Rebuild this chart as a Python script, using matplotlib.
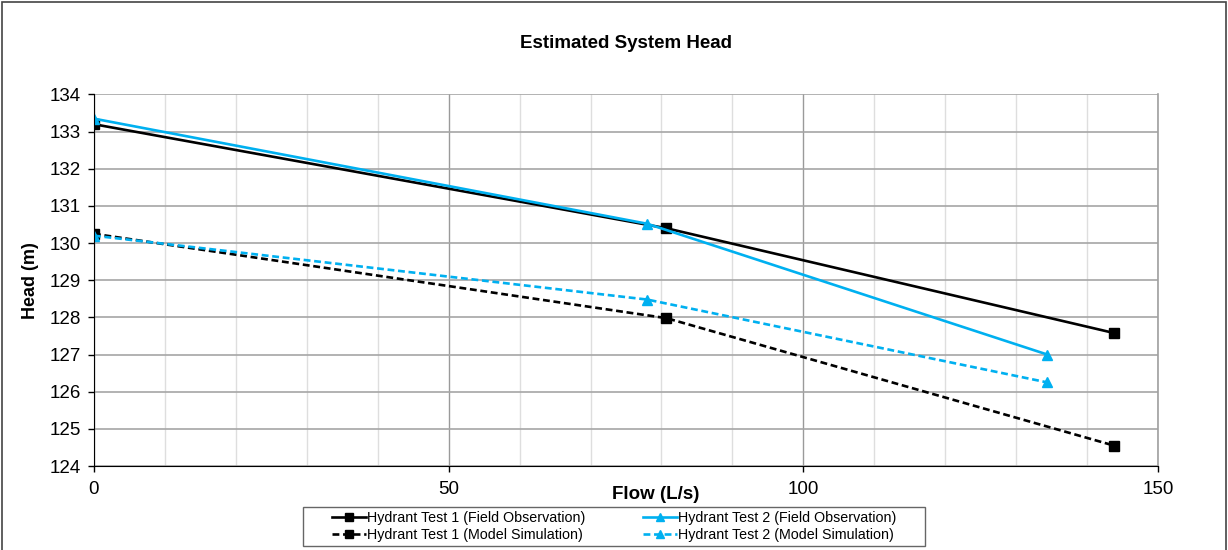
import matplotlib.pyplot as plt
from matplotlib.patches import Rectangle
from matplotlib.ticker import MultipleLocator

plt.rcParams['font.family'] = ['Liberation Sans', 'DejaVu Sans']

# Hydrant test results: flow (L/s) vs head (m)
flow_t1 = [0, 80.7, 143.8]
head_t1_field = [133.2, 130.4, 127.58]
head_t1_model = [130.25, 127.98, 124.55]

flow_t2 = [0, 78.0, 134.4]
head_t2_field = [133.35, 130.52, 127.0]
head_t2_model = [130.2, 128.48, 126.25]

blue = '#00B0F0'
dash = (2.6, 1.4)

fig = plt.figure(figsize=(12.28, 5.5), dpi=100)
ax = fig.add_axes([0.0765, 0.1527, 0.8665, 0.6755])

ax.plot(flow_t1, head_t1_field, '-', color='black', lw=1.9, marker='s', ms=6.5,
        label='Hydrant Test 1 (Field Observation)')
ax.plot(flow_t2, head_t2_field, '-', color=blue, lw=1.9, marker='^', ms=7.5,
        label='Hydrant Test 2 (Field Observation)')
ax.plot(flow_t1, head_t1_model, '--', color='black', lw=1.9, marker='s', ms=6.5,
        dashes=dash, label='Hydrant Test 1 (Model Simulation)')
ax.plot(flow_t2, head_t2_model, '--', color=blue, lw=1.9, marker='^', ms=7.5,
        dashes=dash, label='Hydrant Test 2 (Model Simulation)')

ax.set_xlim(0, 150)
ax.set_ylim(124, 134)
ax.xaxis.set_major_locator(MultipleLocator(50))
ax.xaxis.set_minor_locator(MultipleLocator(10))
ax.yaxis.set_major_locator(MultipleLocator(1))

ax.grid(which='minor', axis='x', color='#dedede', lw=1)
ax.grid(which='major', axis='x', color='#9a9a9a', lw=1)
ax.grid(which='major', axis='y', color='#a6a6a6', lw=1.2)
ax.set_axisbelow(True)

ax.spines['top'].set_visible(False)
ax.spines['right'].set_color('#a0a0a0')
ax.spines['right'].set_linewidth(1.2)
ax.spines['left'].set_color('black')
ax.spines['bottom'].set_color('black')

ax.tick_params(axis='both', which='major', direction='out', length=4.5, width=1,
               labelsize=13.5, color='black')
ax.tick_params(axis='x', which='minor', length=0)
ax.tick_params(axis='x', pad=6)
ax.tick_params(axis='y', pad=5)

ax.set_xlabel('Flow (L/s)', fontsize=13.5, fontweight='bold')
ax.xaxis.set_label_coords(0.528, -0.055)
ax.set_ylabel('Head (m)', fontsize=13, fontweight='bold')
ax.yaxis.set_label_coords(-0.052, 0.5)
fig.text(0.510, 0.92, 'Estimated System Head', ha='center', va='center',
         fontsize=13.5, fontweight='bold')

h, l = ax.get_legend_handles_labels()
order = [0, 2, 1, 3]
leg = fig.legend([h[i] for i in order], [l[i] for i in order], ncol=2, loc='center',
                 bbox_to_anchor=(0.5, 0.043), fontsize=10.3, frameon=False,
                 handlelength=2.4, columnspacing=4.0, borderpad=0.25,
                 labelspacing=0.2, handletextpad=0.05, borderaxespad=0,
                 markerscale=0.8)

# legend box, wider than the default legend frame
fig.patches.append(Rectangle((0.2467, 0.0073), 0.5065, 0.0715, transform=fig.transFigure,
                             fill=False, edgecolor='#666666', lw=1))

# outer chart border
fig.patches.append(Rectangle((0.002, -0.02), 0.996, 1.016, transform=fig.transFigure,
                             fill=False, edgecolor='#444444', lw=1.2))

fig.savefig('out.png', dpi=100)
